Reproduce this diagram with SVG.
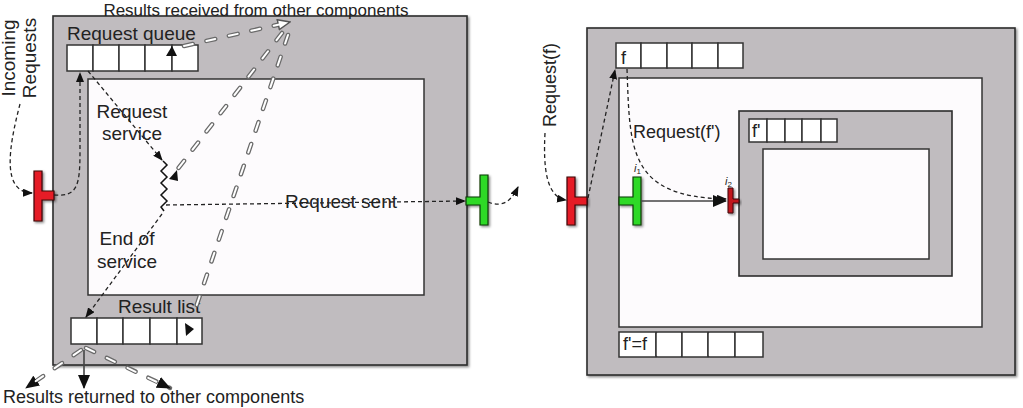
<svg xmlns="http://www.w3.org/2000/svg" width="1023" height="408" viewBox="0 0 1023 408">
<style>
text{font-family:"Liberation Sans",Arial,Helvetica,sans-serif;fill:#222;}
.t19{font-size:19px;}
.t18{font-size:18px;}
.outer{fill:#c0bcbf;stroke:#2c2c2c;stroke-width:1.6;}
.inner{fill:#fdfbfd;stroke:#333;stroke-width:1.5;}
.cell{fill:#fff;stroke:#333;stroke-width:1.5;}
.dash{fill:none;stroke:#222;stroke-width:1.3;stroke-dasharray:4 3;}
.solid{fill:none;stroke:#444;stroke-width:1.6;}
.ddo{fill:none;stroke:#6a6a6a;stroke-width:4.5;stroke-dasharray:9 14;stroke-linecap:round;}
.ddi{fill:none;stroke:#fff;stroke-width:2;stroke-dasharray:9 14;stroke-linecap:round;}
.red{fill:#e61e28;stroke:#3a0808;stroke-width:1.2;}
.green{fill:#2fd928;stroke:#0c3a0a;stroke-width:1.2;}
.dred{fill:#c0121f;stroke:#3a0808;stroke-width:1;}
</style>
<defs>
<filter id="sh" x="-10%" y="-10%" width="130%" height="130%">
<feDropShadow dx="1.5" dy="1.5" stdDeviation="1.2" flood-color="#000" flood-opacity="0.45"/>
</filter>
<marker id="ab" markerWidth="10" markerHeight="8" refX="9" refY="4" orient="auto" markerUnits="userSpaceOnUse">
<path d="M0,0 L10,4 L0,8 z" fill="#111"/>
</marker>
<marker id="abig" markerWidth="14" markerHeight="12" refX="13" refY="6" orient="auto" markerUnits="userSpaceOnUse">
<path d="M0,0 L14,6 L0,12 z" fill="#111"/>
</marker>
<marker id="ah" markerWidth="14" markerHeight="12" refX="13" refY="6" orient="auto" markerUnits="userSpaceOnUse">
<path d="M1,1 L13,6 L1,11 z" fill="#fff" stroke="#555" stroke-width="1.5"/>
</marker>
</defs>

<!-- Left component -->
<g id="left-component">
<rect class="outer" x="53" y="16" width="414" height="349" filter="url(#sh)"/>
<rect class="inner" x="88" y="79" width="336" height="216"/>
</g>
<g id="request-queue">
<rect class="cell" x="67" y="45" width="26" height="26"/>
<rect class="cell" x="93" y="45" width="26" height="26"/>
<rect class="cell" x="119" y="45" width="26" height="26"/>
<rect class="cell" x="145" y="45" width="27" height="26"/>
<rect class="cell" x="172" y="45" width="26" height="26"/>
<polygon points="166,56 172,46 177,56" fill="#111"/>
<text class="t19" x="67" y="40">Request queue</text>
</g>
<g id="result-list">
<rect class="cell" x="71" y="318" width="26" height="26"/>
<rect class="cell" x="97" y="318" width="26" height="26"/>
<rect class="cell" x="123" y="318" width="27" height="26"/>
<rect class="cell" x="150" y="318" width="27" height="26"/>
<rect class="cell" x="177" y="318" width="25" height="26"/>
<polygon points="185,323 194,329 186,336" fill="#111"/>
<text class="t19" x="118" y="313">Result list</text>
</g>
<g id="left-input-port">
<path class="red" d="M34,171 h8 v20 h12 v9 h-12 v21 h-8 z" filter="url(#sh)"/>
</g>
<g id="left-output-port">
<path class="green" d="M488,175 h-8 v22 h-14 v8 h14 v20 h8 z" filter="url(#sh)"/>
</g>
<g id="service-activity">
<path d="M163,161 l4,4 l-6,6 l6,6 l-6,6 l6,6 l-6,6 l6,6 l-6,6 l3,4" fill="none" stroke="#111" stroke-width="1.5"/>
<polygon points="177,170 169,179 178,181" fill="#111"/>
</g>

<!-- Right component -->
<g id="right-component">
<rect class="outer" x="587" y="28" width="428" height="347" filter="url(#sh)"/>
<rect class="inner" x="619" y="78" width="363" height="249"/>
</g>
<g id="queue-f">
<rect class="cell" x="616" y="43" width="25" height="25"/>
<rect class="cell" x="641" y="43" width="26" height="25"/>
<rect class="cell" x="667" y="43" width="25" height="25"/>
<rect class="cell" x="692" y="43" width="26" height="25"/>
<rect class="cell" x="718" y="43" width="25" height="25"/>
<text class="t18" x="621" y="64">f</text>
</g>
<g id="sub-component">
<rect class="outer" x="739" y="111" width="213" height="165"/>
<rect class="inner" x="763" y="149" width="166" height="110"/>
<rect class="cell" x="749" y="119" width="18" height="23"/>
<rect class="cell" x="767" y="119" width="18" height="23"/>
<rect class="cell" x="785" y="119" width="17" height="23"/>
<rect class="cell" x="802" y="119" width="19" height="23"/>
<rect class="cell" x="821" y="119" width="16" height="23"/>
<text class="t18" x="752" y="137">f'</text>
</g>
<g id="queue-ff">
<rect class="cell" x="619" y="332" width="37" height="25"/>
<rect class="cell" x="656" y="332" width="26" height="25" rx="1.5"/>
<rect class="cell" x="682" y="332" width="26" height="25"/>
<rect class="cell" x="708" y="332" width="27" height="25" rx="1.5"/>
<rect class="cell" x="735" y="332" width="28" height="25"/>
<text class="t18" x="623" y="350">f'=f</text>
</g>
<g id="right-input-port">
<path class="red" d="M567,177 h8 v20 h12 v8 h-12 v20 h-8 z" filter="url(#sh)"/>
</g>
<g id="right-inner-port">
<path class="green" d="M641,177 h-8 v20 h-14 v8 h14 v20 h8 z" filter="url(#sh)"/>
</g>
<g id="sub-input-port">
<path class="dred" d="M728,188 h5 v11 h6 v4 h-6 v10 h-5 z" filter="url(#sh)"/>
</g>

<!-- Connectors -->
<g id="connectors">
<!-- left diagram black dashed -->
<path class="dash" d="M20,104 C8,150 2,192 32,193" marker-end="url(#ab)"/>
<path class="dash" d="M54,195 C78,197 80,185 80,150 L80,73" marker-end="url(#ab)"/>
<path class="dash" d="M88,71 L162,160" marker-end="url(#ab)"/>
<path class="dash" d="M166,205 L465,201" marker-end="url(#ab)"/>
<path class="dash" d="M162,214 L86,317" marker-end="url(#ab)"/>
<path class="dash" d="M488,202 C500,207 510,204 518,187" marker-end="url(#ab)"/>
<path class="solid" d="M84,350 L84,388" marker-end="url(#abig)"/>
<!-- left diagram double dashed -->
<path class="ddo" d="M184,46 L290,22" marker-end="url(#ah)"/>
<path class="ddi" d="M184,46 L290,22"/>
<path class="ddo" d="M282,33 L177,170"/>
<path class="ddi" d="M282,33 L177,170"/>
<path class="ddo" d="M288,35 L193,316"/>
<path class="ddi" d="M288,35 L193,316"/>
<path class="ddo" d="M81,350 L26,388" marker-end="url(#abig)"/>
<path class="ddi" d="M81,350 L33,383"/>
<path class="ddo" d="M86,348 L170,388" marker-end="url(#abig)"/>
<path class="ddi" d="M86,348 L161,384"/>
<!-- right diagram -->
<path class="dash" d="M545,133 C543,170 547,197 566,200" marker-end="url(#ab)"/>
<path class="dash" d="M588,198 L615,70" marker-end="url(#ab)"/>
<path class="dash" d="M627,69 C630,150 628,197 726,199" marker-end="url(#ab)"/>
<path class="solid" d="M641,201 L726,201" marker-end="url(#abig)"/>
</g>

<!-- Free labels -->
<g id="labels">
<text x="256" y="15.8" font-size="17" text-anchor="middle">Results received from other components</text>
<text class="t18" x="3" y="403">Results returned to other components</text>
<text class="t19" transform="translate(15,58) rotate(-90)" text-anchor="middle">Incoming</text>
<text class="t19" transform="translate(36,58) rotate(-90)" text-anchor="middle">Requests</text>
<text class="t19" x="132" y="118" text-anchor="middle">Request</text>
<text class="t19" x="132" y="140" text-anchor="middle">service</text>
<text class="t19" x="127" y="245" text-anchor="middle">End of</text>
<text class="t19" x="127" y="268" text-anchor="middle">service</text>
<text class="t19" x="341" y="208" text-anchor="middle">Request sent</text>
<text class="t18" transform="translate(556,85) rotate(-90)" text-anchor="middle">Request(f)</text>
<text class="t18" x="633" y="138">Request(f')</text>
<text x="634" y="172" font-size="11" font-style="italic">i<tspan font-size="8" dy="2" font-style="normal">1</tspan></text>
<text x="725" y="185" font-size="11" font-style="italic">i<tspan font-size="8" dy="2" font-style="normal">2</tspan></text>
</g>
</svg>
